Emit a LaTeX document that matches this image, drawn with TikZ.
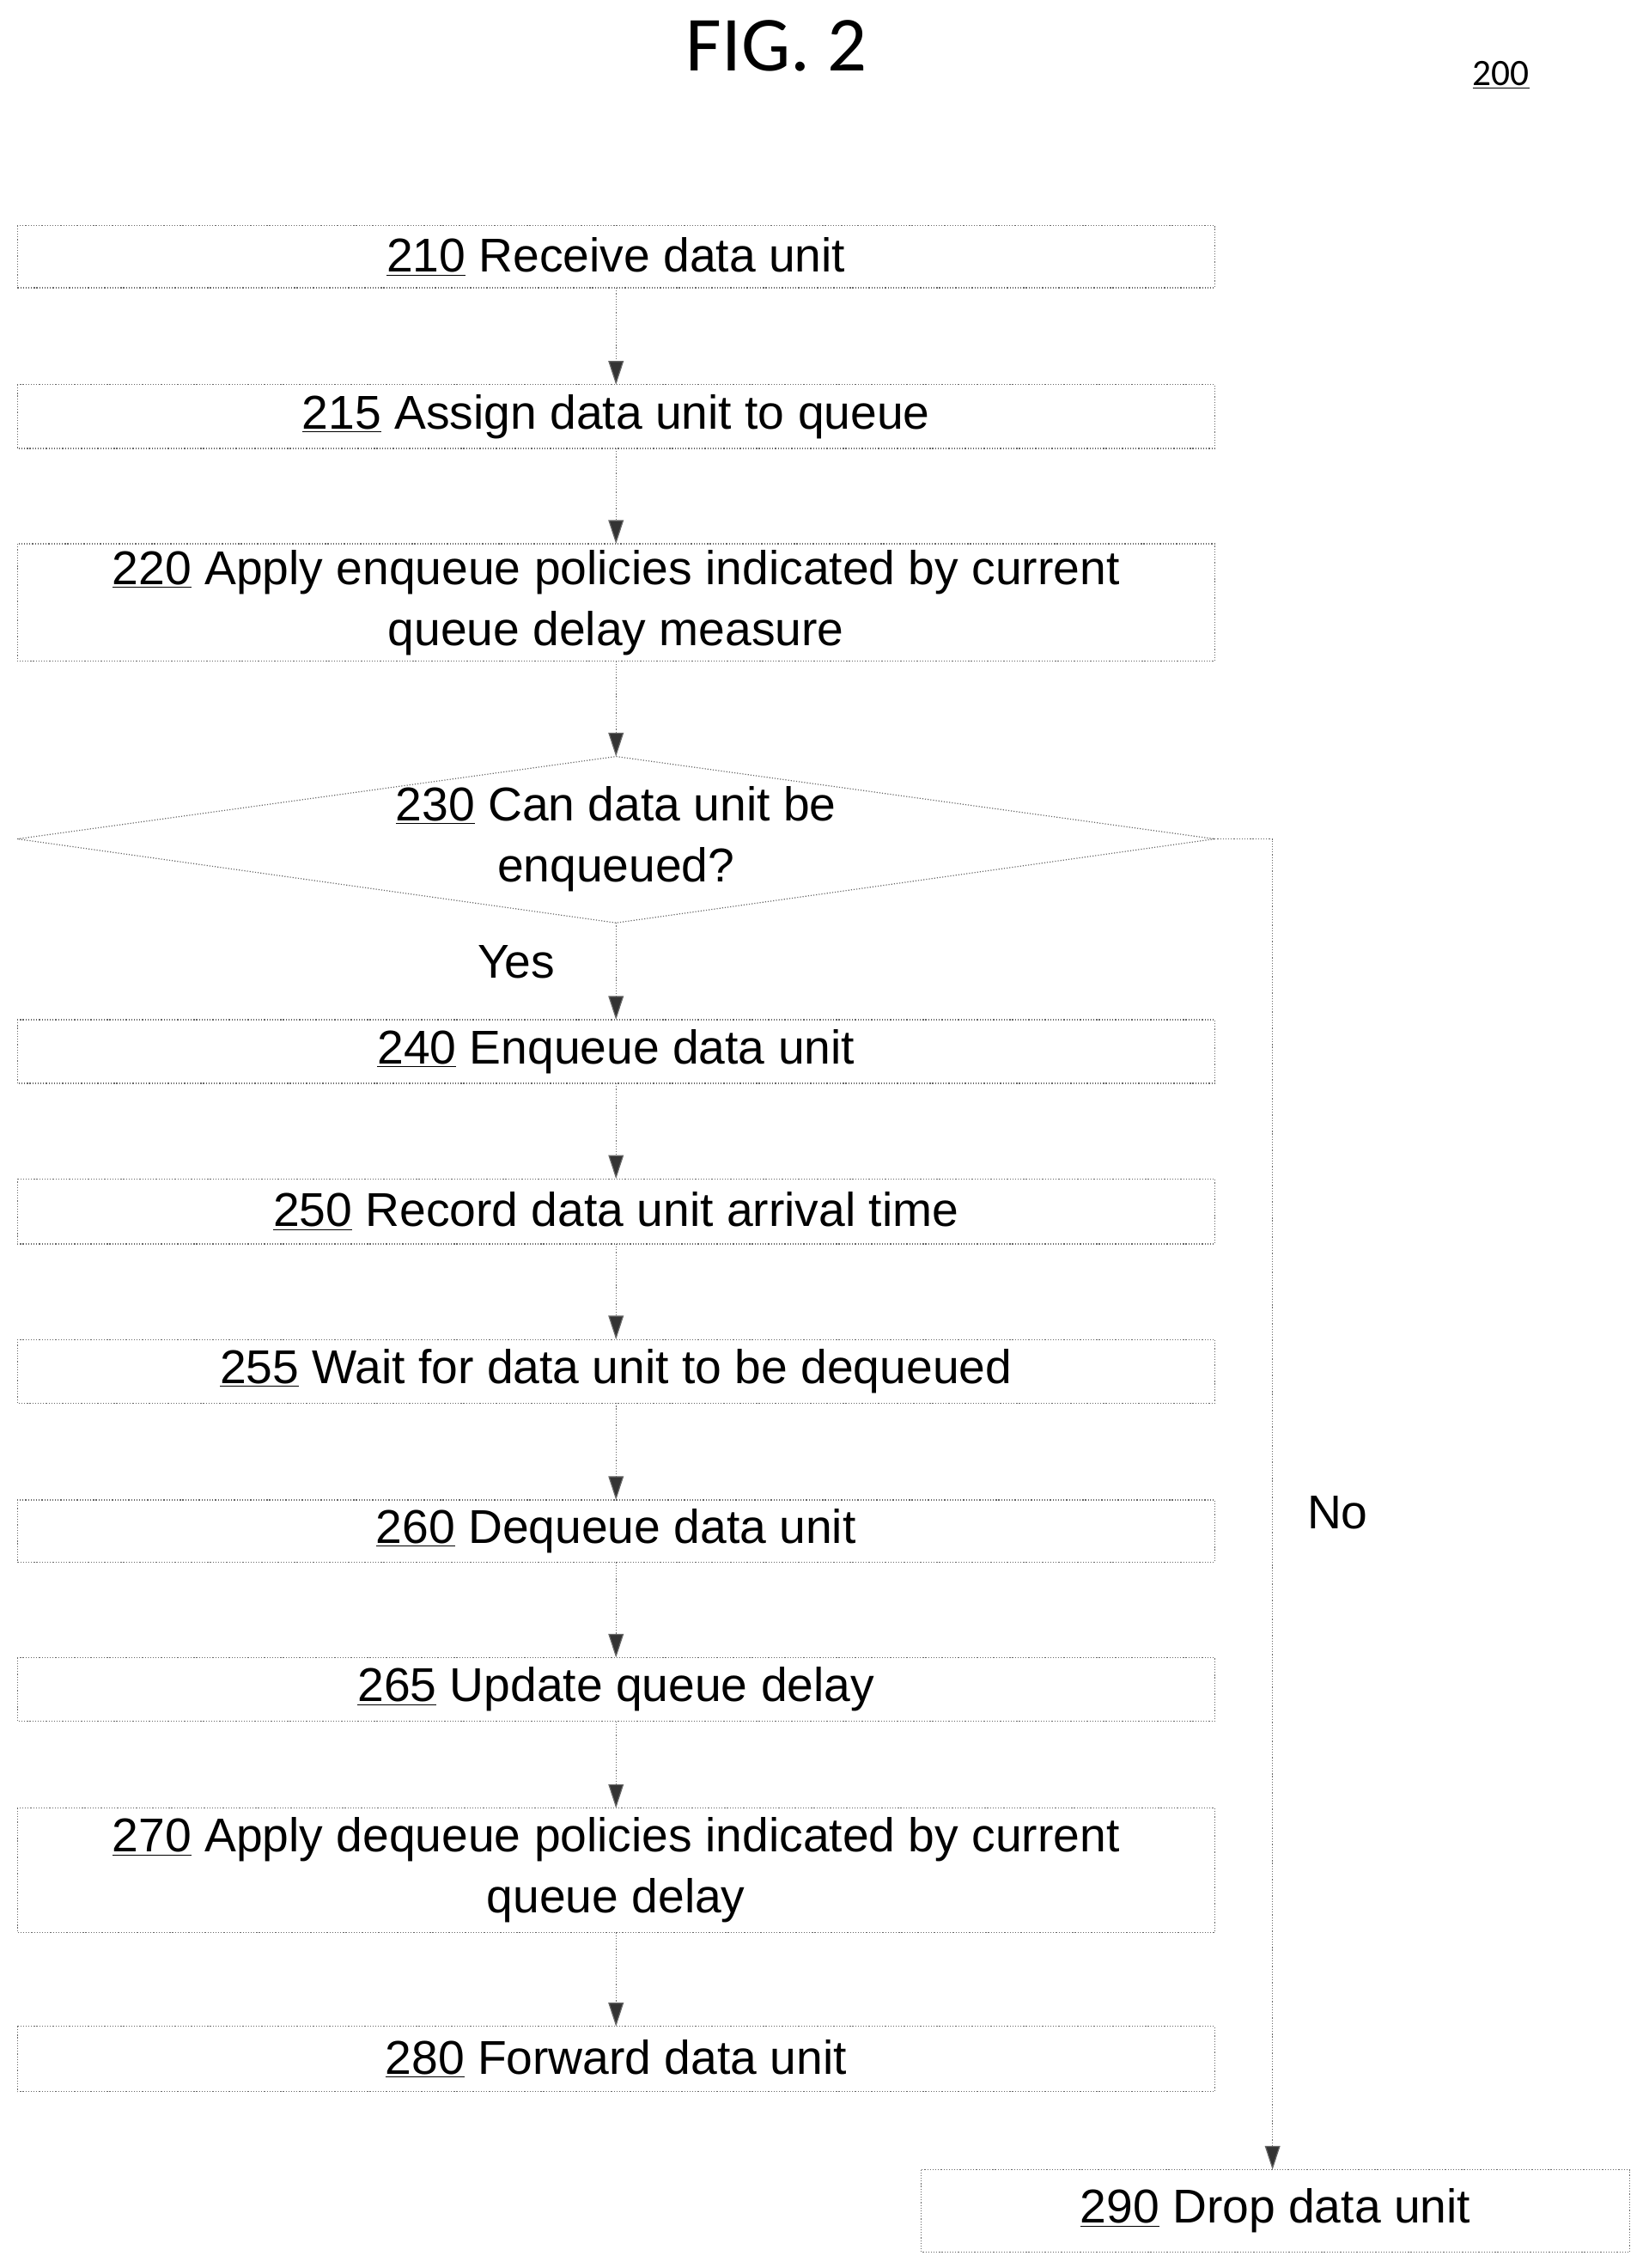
\documentclass[tikz,border=0pt]{standalone}
\usepackage{fontspec}
\setmainfont{Liberation Sans}
\newfontfamily\figfont{Carlito}
\usetikzlibrary{arrows.meta}
\begin{document}
\begin{tikzpicture}[x=0.03cm,y=-0.03cm,
  box/.style={draw=black!60,densely dotted,line width=0.6pt},
  arr/.style={draw=black!60,densely dotted,line width=0.6pt,-{Triangle[length=14pt,width=9pt,fill=black!80]}},
  lab/.style={font=\fontsize{28}{36}\selectfont,align=center}]
\useasboundingbox (0,0) rectangle (1140,1568);
\node[font=\figfont\fontsize{46}{52}\selectfont] (fig) at (537,32) {FIG. 2};
\node[font=\figfont\fontsize{22}{26}\selectfont] (num) at (1038,52) {\underline{200}};
\path[box] (12,156) rectangle (840,199) node[lab,midway] (n210) {\underline{210} Receive data unit};
\path[box] (12,266) rectangle (840,310) node[lab,midway] (n215) {\underline{215} Assign data unit to queue};
\path[box] (12,376) rectangle (840,457) node[lab,midway] (n220) {\underline{220} Apply enqueue policies indicated by current\\queue delay measure};
\path[box] (12,580) -- (426,523) -- (840,580) -- (426,638) -- cycle;
\node[lab] (n230) at (426,580) {\underline{230} Can data unit be\\enqueued?};
\path[box] (12,705) rectangle (840,749) node[lab,midway] (n240) {\underline{240} Enqueue data unit};
\path[box] (12,815) rectangle (840,860) node[lab,midway] (n250) {\underline{250} Record data unit arrival time};
\path[box] (12,926) rectangle (840,970) node[lab,midway] (n255) {\underline{255} Wait for data unit to be dequeued};
\path[box] (12,1037) rectangle (840,1080) node[lab,midway] (n260) {\underline{260} Dequeue data unit};
\path[box] (12,1146) rectangle (840,1190) node[lab,midway] (n265) {\underline{265} Update queue delay};
\path[box] (12,1250) rectangle (840,1336) node[lab,midway] (n270) {\underline{270} Apply dequeue policies indicated by current\\queue delay};
\path[box] (12,1401) rectangle (840,1446) node[lab,midway] (n280) {\underline{280} Forward data unit};
\path[box] (637,1500) rectangle (1127,1557) node[lab,midway] (n290) {\underline{290} Drop data unit};
\coordinate (a1) at (426,199); \coordinate (b1) at (426,266);
\coordinate (a2) at (426,310); \coordinate (b2) at (426,376);
\coordinate (a3) at (426,457); \coordinate (b3) at (426,523);
\coordinate (a4) at (426,638); \coordinate (b4) at (426,705);
\coordinate (a5) at (426,749); \coordinate (b5) at (426,815);
\coordinate (a6) at (426,860); \coordinate (b6) at (426,926);
\coordinate (a7) at (426,970); \coordinate (b7) at (426,1037);
\coordinate (a8) at (426,1080); \coordinate (b8) at (426,1146);
\coordinate (a9) at (426,1190); \coordinate (b9) at (426,1250);
\coordinate (a10) at (426,1336); \coordinate (b10) at (426,1401);
\foreach \i in {1,...,10} \draw[arr] (a\i) -- (b\i);
\coordinate (dr) at (840,580); \coordinate (d290) at (880,1500);
\draw[arr] (dr) -| (d290);
\node[lab] (yes) at (357,665) {Yes};
\node[lab] (no) at (925,1046) {No};
\end{tikzpicture}
\end{document}
